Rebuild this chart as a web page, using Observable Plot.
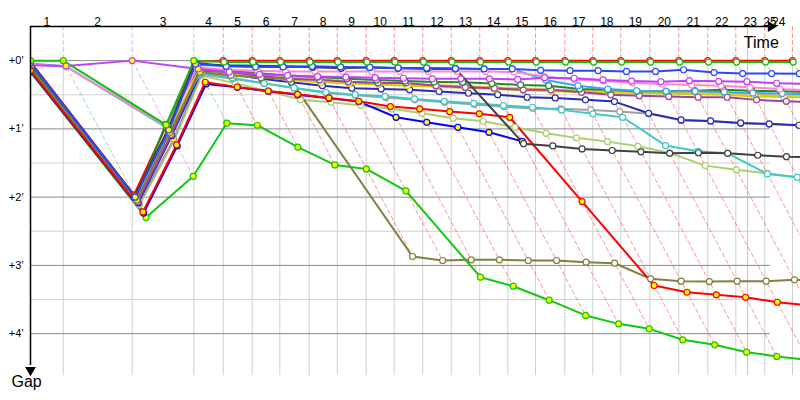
<!DOCTYPE html>
<html><head><meta charset="utf-8">
<script src="https://cdn.jsdelivr.net/npm/d3@7"></script>
<script src="https://cdn.jsdelivr.net/npm/@observablehq/plot@0.6"></script>
<style>body{margin:0;background:#fff;} #chart{width:800px;height:400px;}</style>
</head><body><div id="chart"></div>
<script>
// Leader's lap completion times (seconds from start), lap 0 = start
const lapTimes = [0, 54.5, 169.5, 272.2, 321.2, 369.5, 415.5, 464.5, 511.2, 559.5, 606.2, 653.8, 701.2, 748.8, 795.5, 841.7, 890.5, 937.2, 983.8, 1032.2, 1080.5, 1128.8, 1175.5, 1223.8, 1270];
const raceEnd = 1195;
const lapLabels = ["1","2","3","4","5","6","7","8","9","10","11","12","13","14","15","16","17","18","19","20","21","22","23","24","25"];
const yTicks = [0, 60, 120, 180, 240];
const yMinorTicks = [30, 90, 150, 210];

// Driver series (gap to leader in seconds, per lap 0..24)
const driverNames  = ["red","greenSlow","lightGreen","gray","darkBlue","cyan","orange","yellow","purple","darkGreen","olive","lightBlue","pink","violet","blue2","red2","black","blue","green"];
const driverColors = ["#ff0000","#10c810","#a8d070","#a0a0a0","#2a2ab8","#40c8c8","#ffb050","#d0d000","#a040a0","#208c20","#808040","#30a8ff","#ff88c8","#c040ff","#0000ff","#ff0000","#404040","#2848ff","#10c010"];
const yellowMarkerDrivers = ["greenSlow","blue2","red2"];

const gapsRed = [1, 118, 57, 1, 0, 0, 0, 0, 0, 0, 0, 0, 0, 0, 0, 0, 0, 0, 0, 0, 0, 0, 0, 0, 0];
const gapsGreenSlow = [10, 138, 101.7, 55, 56.8, 76, 91.7, 95.2, 114.5, 190.4, 198.3, 210.6, 224, 231.4, 235.8, 245.4, 249.8, 256.3, 260, 263, 266, 268, 270, 272, 274];
const gapsLightGreen = [8.5, 127, 70, 13, 20, 27, 34.3, 36.6, 39.5, 42.4, 46.3, 50.7, 53.3, 58.6, 63.9, 67.9, 71.2, 75.3, 81.1, 92.3, 96, 99, 102.5, 104, 105];
const gapsGray = [8, 126, 69, 12, 16, 20, 24, 28.5, 30.5, 32.5, 34.5, 36.5, 38.5, 40.5, 42, 42.4, 43.3, 44.8, 46.8, 52.7, 53.3, 55.1, 56, 57.1, 58];
const gapsDarkBlue = [7, 125, 66, 11, 12, 16, 19, 22, 24.3, 24.9, 25.7, 27.2, 28.7, 29.9, 32.2, 32.8, 34.5, 36, 46.3, 52.1, 53, 54.8, 55.6, 56.8, 57.5];
const gapsCyan = [3.5, 5, 59.5, 11, 15, 20, 24, 27.9, 29.9, 31.4, 33.7, 35.8, 37.5, 39.5, 41, 43.3, 46.8, 49.8, 74.7, 79.7, 81.5, 99.6, 102.5, 104, 105];
const gapsOrange = [5, 122, 61.5, 8, 10, 12, 14, 16, 18.5, 19.5, 20.5, 21.5, 22.5, 23.5, 24.5, 25.5, 26, 26.5, 27, 27.5, 28, 28.5, 30, 30.5, 31];
const gapsYellow = [5.5, 123, 62, 9, 11, 14, 17, 19, 20, 21, 22, 23, 24, 25, 26, 27, 27.5, 28, 28.5, 29, 29.5, 30, 31.5, 32, 32.5];
const gapsPurple = [6, 124, 65, 9, 10, 13.5, 16, 17, 18.5, 19.6, 19.6, 22, 23.5, 24.3, 25.7, 25.7, 27.9, 29.9, 30.8, 31.6, 32.2, 32.2, 34.5, 35.8, 36.5];
const gapsDarkGreen = [4.5, 121, 56, 7, 9, 11, 13, 14.5, 16, 17, 18, 18.7, 19, 20.2, 21.4, 22, 24.9, 25.7, 27, 27, 26.4, 25.7, 26.4, 27, 27.5];
const gapsOlive = [6.5, 122.5, 63, 10, 13, 15, 16.1, 172.2, 175.7, 175.1, 175.1, 175.7, 175.7, 177.2, 178.1, 191.8, 193.9, 194.2, 193.9, 193.9, 192.7, 193, 193, 193, 193];
const gapsLightBlue = [2.5, 5.2, 58.5, 4, 4, 4.5, 5, 5.5, 6, 6, 6.5, 6.5, 7, 7.3, 7.3, 17, 22, 25, 26.5, 27, 27, 27.5, 28.5, 29, 29.5];
const gapsPink = [3, 5.5, 58, 6, 8, 9, 9.5, 9.5, 9.5, 9.5, 9.5, 9.5, 9.5, 9.5, 10, 14, 16.5, 18, 19.5, 20.5, 21.5, 22, 23.5, 25, 26];
const gapsViolet = [4, 4.7, 0, 7.3, 10, 12, 13, 14, 14.5, 15, 15.5, 16, 16, 16, 16.5, 15, 15.5, 17, 18, 18.5, 17.6, 18.2, 18.5, 19.9, 20.5];
const gapsBlue2 = [9.5, 134, 75, 20.5, 23.5, 27, 29.9, 33.1, 36, 49.8, 54.2, 58.6, 63, 71, null, null, null, null, null, null, null, null, null, null, null];
const gapsRed2 = [9, 133, 74, 19, 23.2, 26.7, 29.6, 32.8, 35.7, 40.4, 42.4, 44.8, 46.8, 49.8, 123.9, 197.7, 203.6, 205.9, 208, 212.4, 215, 217, 219, 221, 223];
const gapsBlack = [1.5, 119, 60, 2, 4.4, 4.6, 5, 5.9, 6.8, 5.9, 6.8, 7.3, 7.3, 73, 75, 77.6, 79, 80.2, 81.5, 81, 81.5, 83.2, 84.4, 85, 85.5];
const gapsBlue = [2, 120, 61, 3, 5, 5.5, 5.5, 5, 5.5, 6, 6.5, 6.5, 7, 7.3, 7.3, 8.5, 8.8, 8.8, 9.5, 9.5, 8, 10.5, 11.4, 11.4, 11.5];
const gapsGreen = [0, 0, 56.5, 0, 1.3, 1.3, 1.3, 1.3, 1.3, 1.3, 1.3, 1.3, 1.3, 1.3, 1.3, 1.3, 1.3, 1.3, 1.3, 1.3, 1.3, 1.3, 1.3, 1.3, 1.3];

const driverGaps = [gapsRed, gapsGreenSlow, gapsLightGreen, gapsGray, gapsDarkBlue, gapsCyan, gapsOrange, gapsYellow, gapsPurple, gapsDarkGreen, gapsOlive, gapsLightBlue, gapsPink, gapsViolet, gapsBlue2, gapsRed2, gapsBlack, gapsBlue, gapsGreen];

// Build point table: a driver's lap-k point sits at the time he crosses the line
const points = [];
driverNames.forEach((name, i) => {
  driverGaps[i].forEach((g, lap) => {
    if (g == null) return;
    const yellow = yellowMarkerDrivers.includes(name) || lap <= 3;
    points.push({driver: name, lap, g, t: lap === 0 ? 0 : lapTimes[lap] + g,
      color: driverColors[i], fill: yellow ? "#ffff00" : "#ffffff"});
  });
});

// Lap iso-lines (dashed), coloured after the leader of that lap
const lapLines = [];
for (let k = 1; k < lapTimes.length; k++) {
  let maxG = 0, leader = null;
  driverNames.forEach((name, i) => {
    const g = driverGaps[i][k];
    if (g == null) return;
    if (g > maxG) maxG = g;
    if (g === 0 && leader == null) leader = driverColors[i];
  });
  const c = leader || "#ff0000";
  lapLines.push({lap: k, t: lapTimes[k], g: -30, color: c});
  lapLines.push({lap: k, t: lapTimes[k], g: 0, color: c});
  lapLines.push({lap: k, t: lapTimes[k] + maxG, g: maxG, color: c});
}

const labelData = lapLabels.map((lab, i) => {
  const k = i + 1;
  const t = k < lapTimes.length ? (lapTimes[k - 1] + lapTimes[k]) / 2 : (raceEnd + lapTimes[lapTimes.length - 1]) / 2;
  return {lab, t};
});

const tMax = 1283.33, gMin = -30, gMax = 276.8;
const xAxisEnd = 1234;

const chart = Plot.plot({
  width: 800, height: 400,
  marginLeft: 30, marginTop: 26, marginRight: 0, marginBottom: 25,
  x: {domain: [0, tMax], axis: null},
  y: {domain: [gMin, gMax], reverse: true, axis: null},
  color: {type: "identity"},
  style: {fontFamily: "'Liberation Sans', Arial, sans-serif", background: "#fff", color: "#000"},
  marks: [
    Plot.ruleY(yMinorTicks, {x1: 0, x2: 1233, stroke: "#d0d0d0", strokeWidth: 1}),
    Plot.ruleX(lapTimes.slice(1), {y1: 0, y2: gMax, stroke: "#d0d0d0", strokeWidth: 1}),
    Plot.ruleX([raceEnd], {y1: gMin, y2: gMax, stroke: "#c8c8c8", strokeWidth: 1}),
    Plot.ruleY(yTicks, {x1: 0, x2: 1233, stroke: "#888", strokeWidth: 1}),
    Plot.line(lapLines, {x: "t", y: "g", z: "lap", stroke: "color", strokeOpacity: 0.42, strokeWidth: 1, strokeDasharray: "4,3", clip: true}),
    Plot.line(points, {x: "t", y: "g", z: "driver", stroke: "color", strokeWidth: 2, clip: true}),
    Plot.dot(points, {x: "t", y: "g", r: 3, stroke: "color", fill: "fill", strokeWidth: 1.2, clip: true}),
    // axes
    Plot.ruleY([gMin], {x1: 0, x2: xAxisEnd - 4, stroke: "#000", strokeWidth: 1.5}),
    Plot.dot([xAxisEnd], {x: d => d, y: gMin, symbol: "triangle", rotate: 90, r: 4, fill: "#000", stroke: null}),
    Plot.ruleX([0], {y1: gMin, y2: 268, stroke: "#000", strokeWidth: 1.5}),
    Plot.dot([0], {x: d => d, y: 272, symbol: "triangle", rotate: 180, r: 4, fill: "#000", stroke: null}),
    Plot.axisY(yTicks, {anchor: "left", label: null, tickSize: 0, tickPadding: 7, fontSize: 11, tickFormat: d => `+${d / 60}'`}),
    Plot.text(labelData, {x: "t", text: "lab", frameAnchor: "top", dy: -9, fontSize: 12, fill: "#000"}),
    Plot.text(["Time"], {x: 1218, frameAnchor: "top", dy: 10, fontSize: 16, fill: "#000"}),
    Plot.text(["Gap"], {frameAnchor: "bottom-left", dx: -19, dy: 11, fontSize: 16, fill: "#000"})
  ]
});
document.getElementById("chart").appendChild(chart);
</script>
</body></html>
